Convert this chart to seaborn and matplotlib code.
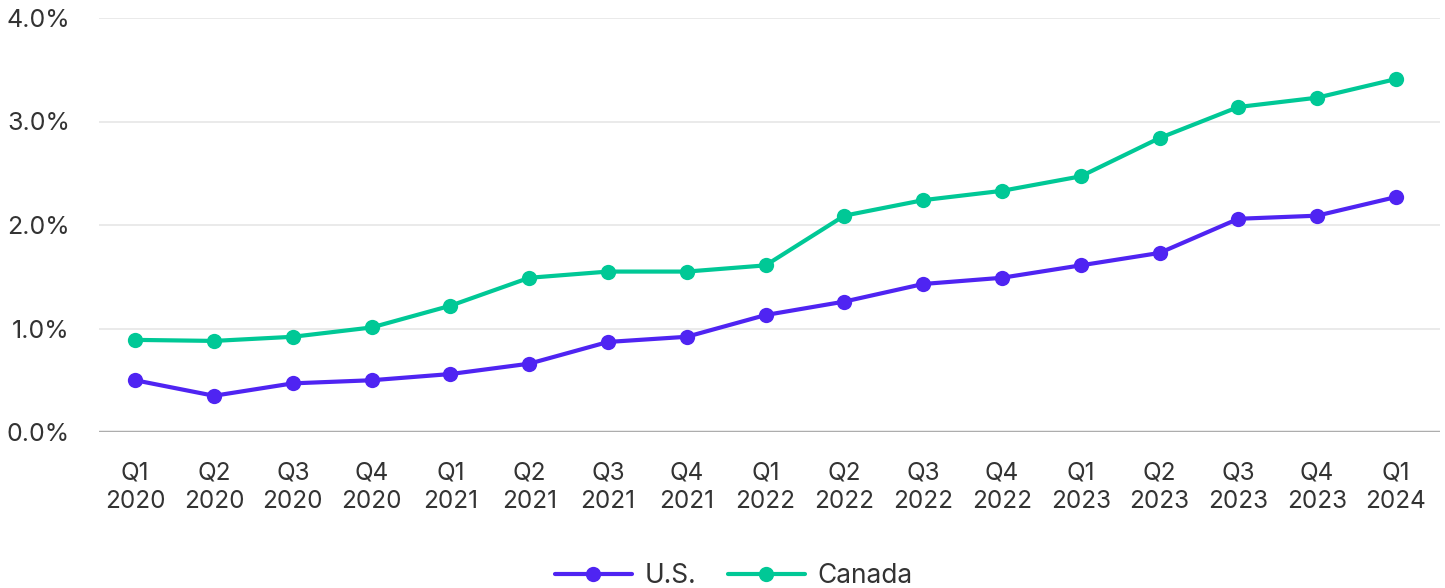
import seaborn as sns
import matplotlib.pyplot as plt
import pandas as pd
from matplotlib.ticker import FuncFormatter

# data (percent)
quarters = ["Q1\n2020", "Q2\n2020", "Q3\n2020", "Q4\n2020",
            "Q1\n2021", "Q2\n2021", "Q3\n2021", "Q4\n2021",
            "Q1\n2022", "Q2\n2022", "Q3\n2022", "Q4\n2022",
            "Q1\n2023", "Q2\n2023", "Q3\n2023", "Q4\n2023",
            "Q1\n2024"]
us = [0.50, 0.35, 0.47, 0.50, 0.56, 0.66, 0.87, 0.92, 1.13,
      1.26, 1.43, 1.49, 1.61, 1.73, 2.06, 2.09, 2.27]
canada = [0.89, 0.88, 0.92, 1.01, 1.22, 1.49, 1.55, 1.55, 1.61,
          2.09, 2.24, 2.33, 2.47, 2.84, 3.14, 3.23, 3.41]

df = pd.DataFrame({
    "pos": list(range(len(quarters))) * 2,
    "value": us + canada,
    "series": ["U.S."] * len(us) + ["Canada"] * len(canada),
})

sns.set_theme(style="white")
plt.rcParams['font.family'] = ['Inter', 'DejaVu Sans']
txt = "#333333"

fig = plt.figure(figsize=(14.45, 5.88), dpi=100)
ax = fig.add_axes([99 / 1445, 1 - 432 / 588, (1440 - 99) / 1445, (432 - 18) / 588])

sns.lineplot(data=df, x="pos", y="value", hue="series",
             palette={"U.S.": "#4F24F2", "Canada": "#00C896"},
             marker="o", markersize=11, markeredgewidth=0,
             linewidth=3, ax=ax, legend=True)

ax.set_ylim(0, 4.0)
ax.set_xlim(-0.46, 16.56)
ax.set_yticks([0, 1, 2, 3, 4])
ax.yaxis.set_major_formatter(FuncFormatter(lambda v, p: f"{v:.1f}%"))
ax.set_xticks(range(len(quarters)))
ax.set_xticklabels(quarters, linespacing=1.3)
ax.tick_params(axis="y", labelsize=18, colors=txt, pad=21, length=0)
ax.tick_params(axis="x", labelsize=17.5, colors=txt, pad=21, length=0)
ax.grid(axis="y", color="#e6e6e6", linewidth=1.2)
ax.set_axisbelow(True)
ax.axhline(0, color="#adadad", linewidth=2.5, zorder=1)
sns.despine(ax=ax, left=True, bottom=True)
ax.set_xlabel("")
ax.set_ylabel("")

handles, labels = ax.get_legend_handles_labels()
ax.get_legend().remove()
fig.legend(handles, labels, loc="lower center", bbox_to_anchor=(0.508, -0.042),
           ncol=2, frameon=False, fontsize=19, handlelength=2.9,
           handletextpad=0.5, columnspacing=1.2, labelcolor=txt)

fig.savefig("out.png", dpi=100)
